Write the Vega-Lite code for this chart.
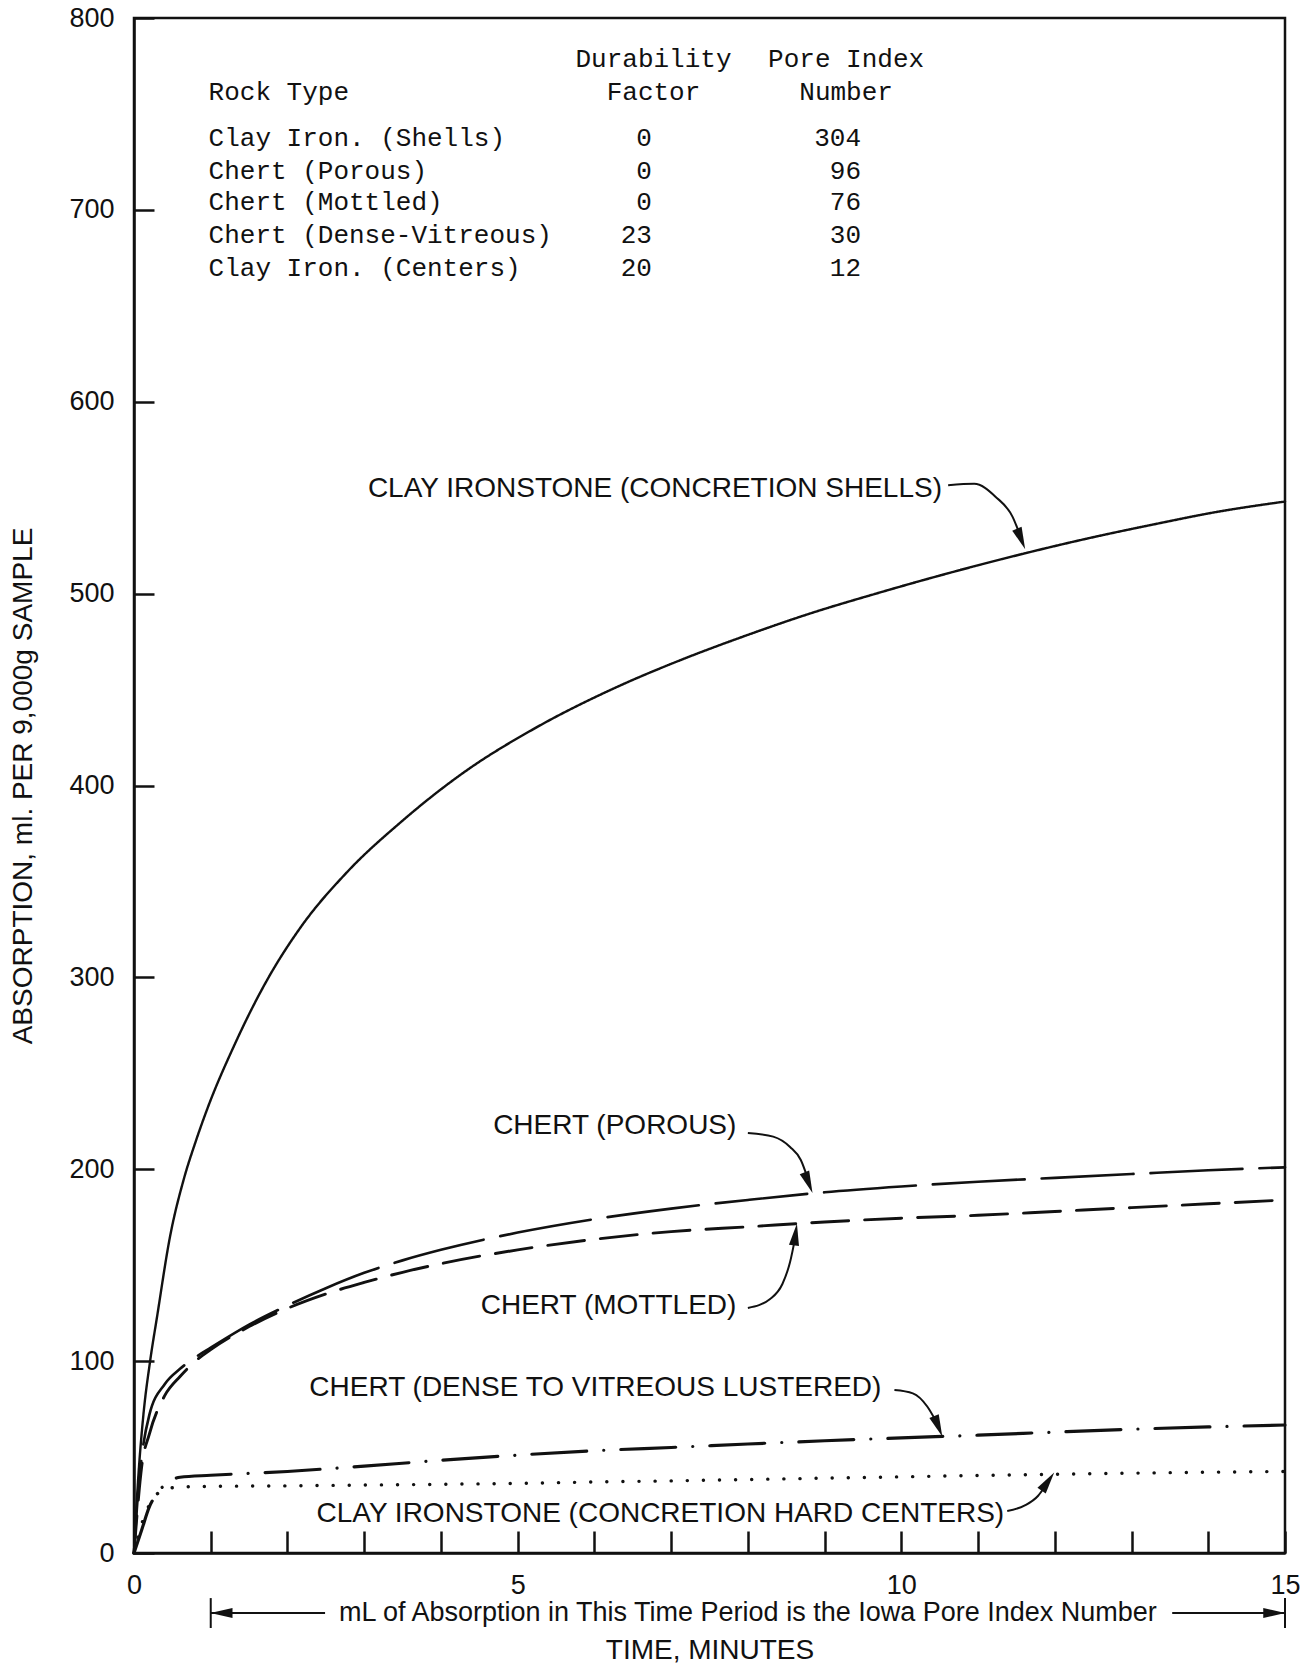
{
  "$schema": "https://vega.github.io/schema/vega-lite/v6.json",
  "width": 1151,
  "height": 1535,
  "autosize": {"type": "none"},
  "padding": {"left": 134, "top": 18, "right": 22, "bottom": 116},
  "background": "white",
  "config": {
    "view": {"stroke": "#111", "strokeWidth": 2.5},
    "font": "Liberation Sans",
    "axis": {"domainColor": "#111", "domainWidth": 2.5, "tickColor": "#111", "tickWidth": 2.5, "grid": false, "labelColor": "#111", "titleColor": "#111", "labelFont": "Liberation Sans", "titleFont": "Liberation Sans", "titleFontWeight": "normal"}
  },
  "datasets": {
    "curves": [
      {"series": "shells", "t": 0, "v": 0}, {"series": "shells", "t": 0.05, "v": 36}, {"series": "shells", "t": 0.12, "v": 71}, {"series": "shells", "t": 0.21, "v": 100}, {"series": "shells", "t": 0.3, "v": 123}, {"series": "shells", "t": 0.47, "v": 165}, {"series": "shells", "t": 0.65, "v": 195}, {"series": "shells", "t": 0.8, "v": 214}, {"series": "shells", "t": 0.96, "v": 232}, {"series": "shells", "t": 1.3, "v": 264}, {"series": "shells", "t": 1.74, "v": 299}, {"series": "shells", "t": 2.17, "v": 326}, {"series": "shells", "t": 2.78, "v": 355}, {"series": "shells", "t": 3.48, "v": 381}, {"series": "shells", "t": 4.34, "v": 408}, {"series": "shells", "t": 5.21, "v": 429.5}, {"series": "shells", "t": 6.33, "v": 452}, {"series": "shells", "t": 7.1, "v": 465}, {"series": "shells", "t": 8.0, "v": 478.5}, {"series": "shells", "t": 8.8, "v": 489.5}, {"series": "shells", "t": 9.67, "v": 500}, {"series": "shells", "t": 10.6, "v": 510.5}, {"series": "shells", "t": 11.61, "v": 521}, {"series": "shells", "t": 12.4, "v": 528.5}, {"series": "shells", "t": 13.28, "v": 536}, {"series": "shells", "t": 14.1, "v": 542.5}, {"series": "shells", "t": 15, "v": 548},
      {"series": "porous", "t": 0, "v": 0}, {"series": "porous", "t": 0.05, "v": 30}, {"series": "porous", "t": 0.1, "v": 50}, {"series": "porous", "t": 0.2, "v": 72}, {"series": "porous", "t": 0.4, "v": 88}, {"series": "porous", "t": 0.6, "v": 96}, {"series": "porous", "t": 0.8, "v": 102}, {"series": "porous", "t": 1, "v": 107}, {"series": "porous", "t": 1.5, "v": 119}, {"series": "porous", "t": 2, "v": 129}, {"series": "porous", "t": 2.5, "v": 138}, {"series": "porous", "t": 3, "v": 146}, {"series": "porous", "t": 3.5, "v": 152.5}, {"series": "porous", "t": 4, "v": 158}, {"series": "porous", "t": 5, "v": 167}, {"series": "porous", "t": 6, "v": 174}, {"series": "porous", "t": 7, "v": 179.5}, {"series": "porous", "t": 8, "v": 184}, {"series": "porous", "t": 9, "v": 188}, {"series": "porous", "t": 10, "v": 191}, {"series": "porous", "t": 11, "v": 193.5}, {"series": "porous", "t": 12, "v": 195.5}, {"series": "porous", "t": 13, "v": 197.5}, {"series": "porous", "t": 14, "v": 199.5}, {"series": "porous", "t": 15, "v": 201},
      {"series": "mottled", "t": 0, "v": 0}, {"series": "mottled", "t": 0.05, "v": 25}, {"series": "mottled", "t": 0.1, "v": 45}, {"series": "mottled", "t": 0.2, "v": 62}, {"series": "mottled", "t": 0.4, "v": 82}, {"series": "mottled", "t": 0.6, "v": 92}, {"series": "mottled", "t": 0.8, "v": 100}, {"series": "mottled", "t": 1, "v": 106}, {"series": "mottled", "t": 1.5, "v": 118}, {"series": "mottled", "t": 2, "v": 127.5}, {"series": "mottled", "t": 2.5, "v": 135}, {"series": "mottled", "t": 3, "v": 141}, {"series": "mottled", "t": 3.5, "v": 146.3}, {"series": "mottled", "t": 4, "v": 150.8}, {"series": "mottled", "t": 5, "v": 158}, {"series": "mottled", "t": 6, "v": 163.5}, {"series": "mottled", "t": 7, "v": 167.5}, {"series": "mottled", "t": 8, "v": 170}, {"series": "mottled", "t": 9, "v": 172.5}, {"series": "mottled", "t": 10, "v": 174.5}, {"series": "mottled", "t": 11, "v": 176}, {"series": "mottled", "t": 12, "v": 178}, {"series": "mottled", "t": 13, "v": 180}, {"series": "mottled", "t": 14, "v": 182}, {"series": "mottled", "t": 15, "v": 184},
      {"series": "dense", "t": 0, "v": 0}, {"series": "dense", "t": 0.1, "v": 12}, {"series": "dense", "t": 0.2, "v": 24}, {"series": "dense", "t": 0.3, "v": 31}, {"series": "dense", "t": 0.45, "v": 37}, {"series": "dense", "t": 0.6, "v": 39.5}, {"series": "dense", "t": 1, "v": 40.5}, {"series": "dense", "t": 2, "v": 42.5}, {"series": "dense", "t": 3, "v": 45.3}, {"series": "dense", "t": 4, "v": 48.3}, {"series": "dense", "t": 5, "v": 51}, {"series": "dense", "t": 6, "v": 53.3}, {"series": "dense", "t": 7, "v": 55}, {"series": "dense", "t": 8, "v": 56.8}, {"series": "dense", "t": 9, "v": 58.5}, {"series": "dense", "t": 10, "v": 60}, {"series": "dense", "t": 11, "v": 61.4}, {"series": "dense", "t": 12, "v": 63}, {"series": "dense", "t": 13, "v": 64.5}, {"series": "dense", "t": 14, "v": 65.7}, {"series": "dense", "t": 15, "v": 66.7},
      {"series": "centers", "t": 0, "v": 0}, {"series": "centers", "t": 0.1, "v": 15}, {"series": "centers", "t": 0.2, "v": 25}, {"series": "centers", "t": 0.27, "v": 29.5}, {"series": "centers", "t": 0.37, "v": 32.5}, {"series": "centers", "t": 0.5, "v": 34}, {"series": "centers", "t": 0.7, "v": 34.5}, {"series": "centers", "t": 1, "v": 34.7}, {"series": "centers", "t": 2, "v": 35}, {"series": "centers", "t": 3, "v": 35.4}, {"series": "centers", "t": 4, "v": 35.8}, {"series": "centers", "t": 5, "v": 36.3}, {"series": "centers", "t": 6, "v": 37}, {"series": "centers", "t": 7, "v": 37.6}, {"series": "centers", "t": 8, "v": 38.3}, {"series": "centers", "t": 9, "v": 39}, {"series": "centers", "t": 10, "v": 39.7}, {"series": "centers", "t": 11, "v": 40.4}, {"series": "centers", "t": 12, "v": 41}, {"series": "centers", "t": 13, "v": 41.6}, {"series": "centers", "t": 14, "v": 42.1}, {"series": "centers", "t": 15, "v": 42.5}
    ],
    "arrows": [
      {"id": "A", "t": 10.61, "v": 556.5}, {"id": "A", "t": 10.95, "v": 557.2}, {"id": "A", "t": 11.23, "v": 550.4}, {"id": "A", "t": 11.45, "v": 540}, {"id": "A", "t": 11.56, "v": 529},
      {"id": "B", "t": 8.0, "v": 218.9}, {"id": "B", "t": 8.33, "v": 217}, {"id": "B", "t": 8.55, "v": 211.6}, {"id": "B", "t": 8.69, "v": 204.8}, {"id": "B", "t": 8.79, "v": 194},
      {"id": "C", "t": 8.0, "v": 127.7}, {"id": "C", "t": 8.29, "v": 132.4}, {"id": "C", "t": 8.45, "v": 140.2}, {"id": "C", "t": 8.55, "v": 151.6}, {"id": "C", "t": 8.62, "v": 165},
      {"id": "D", "t": 9.91, "v": 84.9}, {"id": "D", "t": 10.15, "v": 83.2}, {"id": "D", "t": 10.34, "v": 76.2}, {"id": "D", "t": 10.44, "v": 69.5}, {"id": "D", "t": 10.48, "v": 66.5},
      {"id": "E", "t": 11.38, "v": 21.9}, {"id": "E", "t": 11.61, "v": 24.8}, {"id": "E", "t": 11.78, "v": 29.7}, {"id": "E", "t": 11.87, "v": 34.5}, {"id": "E", "t": 11.91, "v": 36.9}
    ],
    "heads": [
      {"id": "A", "t": 11.56, "v": 528.5, "angle": 158},
      {"id": "B", "t": 8.79, "v": 193, "angle": 158.6},
      {"id": "C", "t": 8.62, "v": 166, "angle": 7.7},
      {"id": "D", "t": 10.48, "v": 66, "angle": 158},
      {"id": "E", "t": 11.91, "v": 37.2, "angle": 35},
      {"id": "L", "t": 1.14, "v": -31.3, "angle": 270},
      {"id": "R", "t": 14.86, "v": -31.3, "angle": 90}
    ],
    "labels": [
      {"text": "CLAY IRONSTONE (CONCRETION SHELLS)", "t": 10.53, "v": 554.5},
      {"text": "CHERT (POROUS)", "t": 7.85, "v": 222.3},
      {"text": "CHERT (MOTTLED)", "t": 7.85, "v": 128.7},
      {"text": "CHERT (DENSE TO VITREOUS LUSTERED)", "t": 9.74, "v": 86},
      {"text": "CLAY IRONSTONE (CONCRETION HARD CENTERS)", "t": 11.34, "v": 20.5}
    ],
    "table": [
      {"col": "type", "text": "Rock Type", "t": 0.972, "v": 761.3},
      {"col": "type", "text": "Clay Iron. (Shells)", "t": 0.972, "v": 737.2},
      {"col": "type", "text": "Chert (Porous)", "t": 0.972, "v": 720.5},
      {"col": "type", "text": "Chert (Mottled)", "t": 0.972, "v": 703.9},
      {"col": "type", "text": "Chert (Dense-Vitreous)", "t": 0.972, "v": 686.7},
      {"col": "type", "text": "Clay Iron. (Centers)", "t": 0.972, "v": 669.5},
      {"col": "head", "text": "Durability", "t": 6.77, "v": 778.8},
      {"col": "head", "text": "Factor", "t": 6.77, "v": 761.3},
      {"col": "head", "text": "Pore Index", "t": 9.28, "v": 778.8},
      {"col": "head", "text": "Number", "t": 9.28, "v": 761.3},
      {"col": "num", "text": "0", "t": 6.75, "v": 737.2},
      {"col": "num", "text": "0", "t": 6.75, "v": 720.5},
      {"col": "num", "text": "0", "t": 6.75, "v": 703.9},
      {"col": "num", "text": "23", "t": 6.75, "v": 686.7},
      {"col": "num", "text": "20", "t": 6.75, "v": 669.5},
      {"col": "num", "text": "304", "t": 9.475, "v": 737.2},
      {"col": "num", "text": "96", "t": 9.475, "v": 720.5},
      {"col": "num", "text": "76", "t": 9.475, "v": 703.9},
      {"col": "num", "text": "30", "t": 9.475, "v": 686.7},
      {"col": "num", "text": "12", "t": 9.475, "v": 669.5}
    ],
    "note": [
      {"text": "mL of Absorption in This Time Period is the Iowa Pore Index Number", "t": 8.0, "v": -31.3}
    ],
    "span": [
      {"t": 1, "t2": 2.49, "v": -31.3},
      {"t": 13.53, "t2": 15, "v": -31.3}
    ],
    "bars": [
      {"t": 1, "v": -23.5, "v2": -39.1},
      {"t": 15, "v": -23.5, "v2": -39.1}
    ]
  },
  "encoding": {
    "x": {"field": "t", "type": "quantitative", "scale": {"domain": [0, 15], "nice": false, "zero": false},
      "axis": {"values": [0,1,2,3,4,5,6,7,8,9,10,11,12,13,14,15], "tickSize": -22, "labelPadding": 41, "labelExpr": "datum.value % 5 === 0 ? datum.label : ''", "labelFontSize": 27, "labelFlush": false, "labelOverlap": false, "title": "TIME, MINUTES", "titleFontSize": 28, "titleY": 97, "titleBaseline": "middle"}},
    "y": {"field": "v", "type": "quantitative", "scale": {"domain": [0, 800], "nice": false, "zero": false},
      "axis": {"values": [0,100,200,300,400,500,600,700,800], "tickSize": -20, "labelPadding": 40, "labelFontSize": 27, "labelFlush": false, "labelOverlap": false, "title": "ABSORPTION, ml. PER 9,000g SAMPLE", "titleFontSize": 28, "titleX": -111, "titleBaseline": "middle"}}
  },
  "layer": [
    {
      "data": {"name": "curves"},
      "mark": {"type": "line", "interpolate": "monotone", "color": "#111", "strokeCap": "round"},
      "encoding": {
        "detail": {"field": "series", "type": "nominal"},
        "strokeDash": {"field": "series", "type": "nominal", "legend": null, "scale": {"domain": ["shells", "porous", "mottled", "dense", "centers"], "range": [[1, 0], [92, 17], [37, 16], [55, 17, 0.1, 17], [0.1, 16]]}},
        "strokeWidth": {"field": "series", "type": "nominal", "legend": null, "scale": {"domain": ["shells", "porous", "mottled", "dense", "centers"], "range": [2.4, 3.4, 3.4, 3.4, 3.6]}}
      }
    },
    {
      "data": {"name": "arrows"},
      "mark": {"type": "line", "interpolate": "monotone", "color": "#111", "strokeWidth": 2},
      "encoding": {"detail": {"field": "id", "type": "nominal"}}
    },
    {
      "data": {"name": "heads"},
      "mark": {"type": "point", "shape": "M0,-1L0.46,1L-0.46,1Z", "filled": true, "color": "#111", "opacity": 1, "size": 484},
      "encoding": {"angle": {"field": "angle", "type": "quantitative", "scale": null}}
    },
    {
      "data": {"name": "labels"},
      "mark": {"type": "text", "align": "right", "baseline": "middle", "font": "Liberation Sans", "fontSize": 28, "color": "#111"},
      "encoding": {"text": {"field": "text", "type": "nominal"}}
    },
    {
      "data": {"name": "table"},
      "transform": [{"filter": "datum.col === 'type'"}],
      "mark": {"type": "text", "align": "left", "baseline": "middle", "font": "Liberation Mono", "fontSize": 26, "color": "#111"},
      "encoding": {"text": {"field": "text", "type": "nominal"}}
    },
    {
      "data": {"name": "table"},
      "transform": [{"filter": "datum.col === 'head'"}],
      "mark": {"type": "text", "align": "center", "baseline": "middle", "font": "Liberation Mono", "fontSize": 26, "color": "#111"},
      "encoding": {"text": {"field": "text", "type": "nominal"}}
    },
    {
      "data": {"name": "table"},
      "transform": [{"filter": "datum.col === 'num'"}],
      "mark": {"type": "text", "align": "right", "baseline": "middle", "font": "Liberation Mono", "fontSize": 26, "color": "#111"},
      "encoding": {"text": {"field": "text", "type": "nominal"}}
    },
    {
      "data": {"name": "note"},
      "mark": {"type": "text", "align": "center", "baseline": "middle", "font": "Liberation Sans", "fontSize": 27, "color": "#111"},
      "encoding": {"text": {"field": "text", "type": "nominal"}}
    },
    {
      "data": {"name": "span"},
      "mark": {"type": "rule", "color": "#111", "strokeWidth": 2},
      "encoding": {"x2": {"field": "t2"}}
    },
    {
      "data": {"name": "bars"},
      "mark": {"type": "rule", "color": "#111", "strokeWidth": 2},
      "encoding": {"y2": {"field": "v2"}}
    }
  ]
}
